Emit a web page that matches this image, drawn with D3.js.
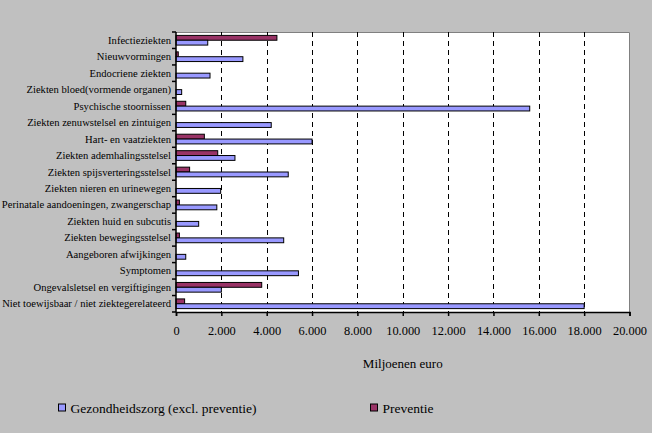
<!DOCTYPE html>
<html>
<head>
<meta charset="utf-8">
<script src="https://cdn.jsdelivr.net/npm/d3@7"></script>
<style>
html,body{margin:0;padding:0;background:#c0c0c0;}
svg{display:block;}
</style>
</head>
<body>
<svg id="chart" width="652" height="433"></svg>
<script>
const categories = [
  "Infectieziekten",
  "Nieuwvormingen",
  "Endocriene ziekten",
  "Ziekten bloed(vormende organen)",
  "Psychische stoornissen",
  "Ziekten zenuwstelsel en zintuigen",
  "Hart- en vaatziekten",
  "Ziekten ademhalingsstelsel",
  "Ziekten spijsverteringsstelsel",
  "Ziekten nieren en urinewegen",
  "Perinatale aandoeningen, zwangerschap",
  "Ziekten huid en subcutis",
  "Ziekten bewegingsstelsel",
  "Aangeboren afwijkingen",
  "Symptomen",
  "Ongevalsletsel en vergiftigingen",
  "Niet toewijsbaar / niet ziektegerelateerd"
];
const gezondheidszorg = [1400, 2950, 1500, 250, 15600, 4200, 6000, 2600, 4950, 1970, 1800, 1000, 4750, 430, 5400, 2000, 18000];
const preventie = [4450, 100, 0, 0, 430, 0, 1250, 1840, 600, 0, 150, 0, 150, 0, 0, 3780, 380];
const xTicks = [0, 2000, 4000, 6000, 8000, 10000, 12000, 14000, 16000, 18000, 20000];
const seriesNames = ["Gezondheidszorg (excl. preventie)", "Preventie"];
const seriesColors = ["#9999ff", "#993366"];

(function () {
const FONT = "'Liberation Serif', Tinos, 'Times New Roman', 'DejaVu Serif', serif";
const svg = d3.select("#chart").attr("font-family", FONT);
const pLeft = 176, pRight = 629.5, pTop = 32, pBottom = 312;

const x = d3.scaleLinear().domain([0, 20000]).range([pLeft, pRight]);
const y = d3.scaleBand().domain(categories).range([pTop, pBottom]).paddingInner(0).paddingOuter(0);
const sub = d3.scaleBand().domain(["prev", "zorg"]).range([0, y.bandwidth()]).paddingOuter(0.7).paddingInner(0);

svg.append("rect").attr("x", pLeft).attr("y", pTop).attr("width", pRight - pLeft).attr("height", pBottom - pTop)
  .attr("fill", "#fff");
svg.append("path").attr("d", `M${pLeft},${pTop+0.5}H${pRight}V${pBottom}`)
  .attr("fill", "none").attr("stroke", "#808080").attr("stroke-width", 1);

svg.append("g").selectAll("line").data(xTicks.filter(t => t > 0 && t < 20000)).join("line")
  .attr("x1", d => Math.round(x(d)) + 0.5).attr("x2", d => Math.round(x(d)) + 0.5)
  .attr("y1", pTop).attr("y2", pBottom)
  .attr("stroke", "#000").attr("stroke-width", 1).attr("stroke-dasharray", "5,4");

const rows = categories.map((c, i) => ({c, zorg: gezondheidszorg[i], prev: preventie[i]}));
const g = svg.append("g");
rows.forEach(r => {
  const y0 = y(r.c);
  if (r.prev > 0) {
    g.append("rect").attr("x", x(0)).attr("y", y0 + sub("prev"))
      .attr("width", x(r.prev) - x(0)).attr("height", sub.bandwidth())
      .attr("fill", seriesColors[1]).attr("stroke", "#000").attr("stroke-width", 1);
  }
  if (r.zorg > 0) {
    g.append("rect").attr("x", x(0)).attr("y", y0 + sub("zorg"))
      .attr("width", x(r.zorg) - x(0)).attr("height", sub.bandwidth())
      .attr("fill", seriesColors[0]).attr("stroke", "#000").attr("stroke-width", 1);
  }
});

const xAxis = d3.axisBottom(x).tickValues(xTicks).tickSize(4).tickPadding(10)
  .tickFormat(d => d3.format(",")(d).replace(/,/g, "."));
const gx = svg.append("g").attr("transform", `translate(0,${pBottom})`).call(xAxis)
  .attr("font-family", FONT).attr("font-size", "12.4px");
gx.select(".domain").attr("stroke", "#000").attr("stroke-width", 1.5);
gx.selectAll(".tick line").attr("stroke", "#000").attr("stroke-width", 1.5);
gx.selectAll(".tick text").attr("fill", "#000");

svg.append("line").attr("x1", pLeft).attr("x2", pLeft).attr("y1", pTop).attr("y2", pBottom)
  .attr("stroke", "#000").attr("stroke-width", 1.5);
const bounds = categories.map(c => y(c)).concat([pBottom]);
svg.append("g").selectAll("line").data(bounds).join("line")
  .attr("x1", pLeft - 4).attr("x2", pLeft).attr("y1", d => d).attr("y2", d => d)
  .attr("stroke", "#000").attr("stroke-width", 1.5);
svg.append("g").selectAll("text").data(categories).join("text")
  .attr("x", 171).attr("y", d => y(d) + y.bandwidth() / 2)
  .attr("text-anchor", "end").attr("dominant-baseline", "central")
  .attr("font-size", "10.6px").attr("fill", "#000").text(d => d);

svg.append("text").attr("x", (pLeft + pRight) / 2).attr("y", 363).attr("text-anchor", "middle")
  .attr("dominant-baseline", "central").attr("font-size", "13px").attr("fill", "#000").text("Miljoenen euro");

const legendX = [58.5, 370.5];
const lg = svg.append("g");
seriesNames.forEach((n, i) => {
  lg.append("rect").attr("x", legendX[i]).attr("y", 404).attr("width", 7).attr("height", 7)
    .attr("fill", seriesColors[i]).attr("stroke", "#000").attr("stroke-width", 1);
  lg.append("text").attr("x", legendX[i] + 12).attr("y", 408).attr("dominant-baseline", "central")
    .attr("font-size", "13.5px").attr("fill", "#000").text(n);
});
})();
</script>
</body>
</html>
